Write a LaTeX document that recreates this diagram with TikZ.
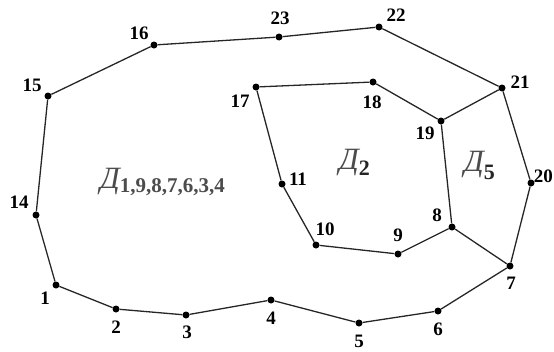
\documentclass[tikz,border=0pt]{standalone}
\usepackage{fontspec}
\setmainfont{Liberation Serif}
\begin{document}
\begin{tikzpicture}[x=1pt,y=-1pt,
  pt/.style={circle,fill=black,inner sep=0pt,minimum size=7pt},
  lbl/.style={font=\fontsize{19}{19}\selectfont\bfseries,inner sep=0pt},
  edge/.style={line width=1.3pt,draw=black!85},
  reg/.style={inner sep=0pt,anchor=base west,text=black!70}]
\useasboundingbox (0,0) rectangle (554,351);
% points
\node[pt] (p1) at (56,285) {};
\node[pt] (p2) at (116,309) {};
\node[pt] (p3) at (186,315) {};
\node[pt] (p4) at (271,300) {};
\node[pt] (p5) at (359,323) {};
\node[pt] (p6) at (438,311) {};
\node[pt] (p7) at (510,266) {};
\node[pt] (p8) at (452,227) {};
\node[pt] (p9) at (398,254) {};
\node[pt] (p10) at (316,245) {};
\node[pt] (p11) at (282,184) {};
\node[pt] (p14) at (36,215) {};
\node[pt] (p15) at (48,96) {};
\node[pt] (p16) at (154,45) {};
\node[pt] (p17) at (256,87) {};
\node[pt] (p18) at (373,82) {};
\node[pt] (p19) at (441,121) {};
\node[pt] (p20) at (531,183) {};
\node[pt] (p21) at (502,88) {};
\node[pt] (p22) at (379,27) {};
\node[pt] (p23) at (279,37) {};
% edges
\draw[edge] (p1) -- (p2) -- (p3) -- (p4) -- (p5) -- (p6) -- (p7) -- (p20) -- (p21) -- (p22) -- (p23) -- (p16) -- (p15) -- (p14) -- (p1);
\draw[edge] (p17) -- (p18) -- (p19) -- (p8) -- (p9) -- (p10) -- (p11) -- (p17);
\draw[edge] (p19) -- (p21);
\draw[edge] (p8) -- (p7);
% labels
\node[lbl] (l1) at (45,298) {1};
\node[lbl] (l2) at (116,327) {2};
\node[lbl] (l3) at (187,332) {3};
\node[lbl] (l4) at (271,318) {4};
\node[lbl] (l5) at (359,341) {5};
\node[lbl] (l6) at (438,329) {6};
\node[lbl] (l7) at (511,283) {7};
\node[lbl] (l8) at (437,215) {8};
\node[lbl] (l9) at (398,235) {9};
\node[lbl] (l10) at (325,229) {10};
\node[lbl] (l11) at (298,179) {11};
\node[lbl] (l14) at (19,202) {14};
\node[lbl] (l15) at (32,85) {15};
\node[lbl] (l16) at (139,33) {16};
\node[lbl] (l17) at (240,101) {17};
\node[lbl] (l18) at (372,102) {18};
\node[lbl] (l19) at (425,133) {19};
\node[lbl,anchor=east] (l20) at (553,176) {20};
\node[lbl] (l21) at (520,82) {21};
\node[lbl] (l22) at (396,15) {22};
\node[lbl] (l23) at (280,18) {23};
% regions
\node[reg] (d1) at (100,188) {\fontsize{31}{31}\selectfont\itshape Д\raisebox{-4pt}{\fontsize{21}{21}\selectfont\upshape\bfseries 1,9,8,7,6,3,4}};
\node[reg] (d2) at (339,169) {\fontsize{31}{31}\selectfont\itshape Д\raisebox{-6pt}{\fontsize{22}{22}\selectfont\upshape\bfseries\color{black!85}2}};
\node[reg] (d5) at (464,171) {\fontsize{31}{31}\selectfont\itshape Д\raisebox{-8pt}{\fontsize{22}{22}\selectfont\upshape\bfseries\color{black!85}5}};
\end{tikzpicture}
\end{document}
